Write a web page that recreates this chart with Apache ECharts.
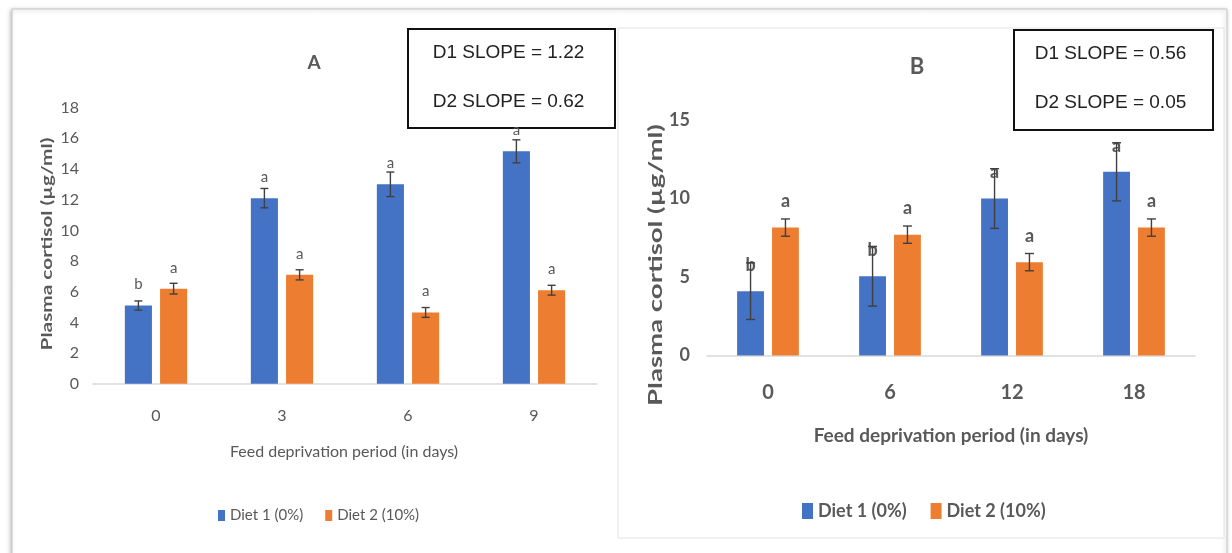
<!DOCTYPE html>
<html><head><meta charset="utf-8">
<script src="https://cdn.jsdelivr.net/npm/echarts@6/dist/echarts.min.js"></script>
<style>html,body{margin:0;padding:0;background:#fff}#c{width:1232px;height:553px}</style>
</head><body><div id="c"></div>
<script>
// ---- data ----
const categoriesA = ['0', '3', '6', '9'];
const categoriesB = ['0', '6', '12', '18'];
const seriesNames = ['Diet 1 (0%)', 'Diet 2 (10%)'];

const diet1A = [5.1, 12.1, 13.0, 15.15];
const diet1AErr = [0.3, 0.63, 0.8, 0.75];
const diet2A = [6.2, 7.1, 4.65, 6.1];
const diet2AErr = [0.35, 0.33, 0.32, 0.32];
const lettersDiet1A = ['b', 'a', 'a', 'a'];
const lettersDiet2A = ['a', 'a', 'a', 'a'];

const diet1B = [4.1, 5.05, 10.0, 11.7];
const diet1BErr = [1.8, 1.9, 1.9, 1.85];
const diet2B = [8.15, 7.7, 5.95, 8.15];
const diet2BErr = [0.55, 0.55, 0.55, 0.55];
const lettersDiet1B = ['b', 'b', 'a', 'a'];
const lettersDiet2B = ['a', 'a', 'a', 'a'];

const ticksA = { min: 0, max: 18, interval: 2 };
const ticksB = { min: 0, max: 15, interval: 5 };
const slopesA = ['D1 SLOPE = 1.22', 'D2 SLOPE = 0.62'];
const slopesB = ['D1 SLOPE = 0.56', 'D2 SLOPE = 0.05'];
const titleA = 'A', titleB = 'B';
const yName = 'Plasma cortisol (µg/ml)';
const xName = 'Feed deprivation period (in days)';

// ---- styling ----
const BLUE = '#4472C4', ORANGE = '#ED7D31', TXT = '#595959';
const FONT = 'Lato, "Open Sans", sans-serif';
const BW_A = 0.215, BW_B = 0.22, GAP = 0.3;

function errData(vals, errs, side) {
  return vals.map((v, i) => [i, v, errs[i], side]);
}
function errRender(bwFrac, cap) {
  return function (params, api) {
    const ci = api.value(0), v = api.value(1), e = api.value(2), side = api.value(3);
    const band = api.size([1, 0])[0];
    const bw = band * bwFrac;
    const off = side * bw * (1 + GAP) / 2;
    const t = api.coord([ci, v + e]);
    const b = api.coord([ci, v - e]);
    const x = t[0] + off;
    const st = { stroke: '#404040', lineWidth: 1.4 };
    return {
      type: 'group',
      children: [
        { type: 'line', shape: { x1: x, y1: t[1], x2: x, y2: b[1] }, style: st },
        { type: 'line', shape: { x1: x - cap / 2, y1: t[1], x2: x + cap / 2, y2: t[1] }, style: st },
        { type: 'line', shape: { x1: x - cap / 2, y1: b[1], x2: x + cap / 2, y2: b[1] }, style: st }
      ]
    };
  };
}
function barSeries(name, data, color, letters, axis, bw, lblSize, lblDist, bold) {
  return {
    name: name, type: 'bar', data: data, xAxisIndex: axis, yAxisIndex: axis,
    barWidth: bw, barGap: '30%', itemStyle: { color: color },
    label: {
      show: true, position: 'top', distance: lblDist,
      formatter: p => letters[p.dataIndex],
      color: TXT, fontFamily: FONT, fontSize: lblSize, fontWeight: bold ? 'bold' : 'normal'
    },
    z: 2
  };
}
function slopeBox(x, y, w, h, lines) {
  return {
    type: 'group', z: 100,
    children: [
      { type: 'rect', shape: { x: x, y: y, width: w, height: h },
        style: { fill: '#fff', stroke: '#111', lineWidth: 2 } },
      { type: 'text', x: x + w / 2 - 3, y: y + 24,
        style: { text: lines[0], font: '19px "Liberation Sans", Arial, sans-serif', fill: '#222', textAlign: 'center', textVerticalAlign: 'middle' } },
      { type: 'text', x: x + w / 2 - 3, y: y + 73,
        style: { text: lines[1], font: '19px "Liberation Sans", Arial, sans-serif', fill: '#222', textAlign: 'center', textVerticalAlign: 'middle' } }
    ]
  };
}

const chart = echarts.init(document.getElementById('c'), null, { renderer: 'canvas' });
chart.setOption({
  backgroundColor: '#fff',
  animation: false,
  textStyle: { fontFamily: FONT },
  grid: [
    { left: 93, top: 107.6, width: 504, height: 276.2 },
    { left: 707, top: 120, width: 488, height: 235.6 }
  ],
  xAxis: [
    { type: 'category', gridIndex: 0, data: categoriesA,
      axisLine: { lineStyle: { color: '#d9d9d9', width: 1.5 } }, axisTick: { show: false },
      axisLabel: { color: TXT, fontSize: 16, margin: 24, fontFamily: FONT } },
    { type: 'category', gridIndex: 1, data: categoriesB,
      axisLine: { lineStyle: { color: '#d9d9d9', width: 1.5 } }, axisTick: { show: false },
      axisLabel: { color: TXT, fontSize: 20, fontWeight: 'bold', margin: 27, fontFamily: FONT } }
  ],
  yAxis: [
    { type: 'value', gridIndex: 0, min: ticksA.min, max: ticksA.max, interval: ticksA.interval,
      splitLine: { show: false }, axisLine: { show: false }, axisTick: { show: false },
      axisLabel: { color: TXT, fontSize: 16, margin: 14, fontFamily: FONT } },
    { type: 'value', gridIndex: 1, min: ticksB.min, max: ticksB.max, interval: ticksB.interval,
      splitLine: { show: false }, axisLine: { show: false }, axisTick: { show: false },
      axisLabel: { color: TXT, fontSize: 18, fontWeight: 'bold', margin: 17, fontFamily: FONT } }
  ],
  legend: [
    { data: seriesNames, left: 213, top: 503, icon: 'rect', itemWidth: 7, itemHeight: 11, itemGap: 22,
      textStyle: { color: TXT, fontSize: 15, fontFamily: FONT }, selectedMode: false },
    { data: seriesNames, left: 797, top: 497, icon: 'rect', itemWidth: 11, itemHeight: 16, itemGap: 24,
      textStyle: { color: TXT, fontSize: 18, fontWeight: 'bold', fontFamily: FONT }, selectedMode: false }
  ],
  series: [
    barSeries(seriesNames[0], diet1A, BLUE, lettersDiet1A, 0, (BW_A * 100) + '%', 15, 13.5, false),
    barSeries(seriesNames[1], diet2A, ORANGE, lettersDiet2A, 0, (BW_A * 100) + '%', 15, 13.5, false),
    barSeries(seriesNames[0], diet1B, BLUE, lettersDiet1B, 1, (BW_B * 100) + '%', 18, 17, true),
    barSeries(seriesNames[1], diet2B, ORANGE, lettersDiet2B, 1, (BW_B * 100) + '%', 18, 17, true),
    { type: 'custom', xAxisIndex: 0, yAxisIndex: 0, data: errData(diet1A, diet1AErr, -1), renderItem: errRender(BW_A, 8), z: 5, silent: true },
    { type: 'custom', xAxisIndex: 0, yAxisIndex: 0, data: errData(diet2A, diet2AErr, 1), renderItem: errRender(BW_A, 8), z: 5, silent: true },
    { type: 'custom', xAxisIndex: 1, yAxisIndex: 1, data: errData(diet1B, diet1BErr, -1), renderItem: errRender(BW_B, 9), z: 5, silent: true },
    { type: 'custom', xAxisIndex: 1, yAxisIndex: 1, data: errData(diet2B, diet2BErr, 1), renderItem: errRender(BW_B, 9), z: 5, silent: true }
  ],
  graphic: [
    // panel frames
    { type: 'rect', z: -10, shape: { x: 12, y: 9, width: 1215, height: 560 },
      style: { fill: '#fff', stroke: '#c8c8c8', lineWidth: 1, shadowBlur: 4, shadowColor: 'rgba(0,0,0,0.25)', shadowOffsetX: -1, shadowOffsetY: 1 } },
    { type: 'rect', z: -9, shape: { x: 618, y: 28, width: 606, height: 510 },
      style: { fill: '#fff', stroke: '#e2e2e2', lineWidth: 1 } },
    // titles
    { type: 'text', x: 314, y: 63, style: { text: titleA, font: 'bold 19px ' + FONT, fill: TXT, textAlign: 'center', textVerticalAlign: 'middle' } },
    { type: 'text', x: 917, y: 67, style: { text: titleB, font: 'bold 22px ' + FONT, fill: TXT, textAlign: 'center', textVerticalAlign: 'middle' } },
    // axis names
    { type: 'text', x: 47, y: 244, rotation: Math.PI / 2, scaleX: 1.3,
      style: { text: yName, font: 'bold 16px ' + FONT, fill: TXT, textAlign: 'center', textVerticalAlign: 'middle' } },
    { type: 'text', x: 656, y: 265, rotation: Math.PI / 2, scaleX: 1.45,
      style: { text: yName, font: 'bold 19px ' + FONT, fill: TXT, textAlign: 'center', textVerticalAlign: 'middle' } },
    { type: 'text', x: 344, y: 452, style: { text: xName, font: '16px ' + FONT, fill: TXT, textAlign: 'center', textVerticalAlign: 'middle' } },
    { type: 'text', x: 951, y: 436, style: { text: xName, font: 'bold 19px ' + FONT, fill: TXT, textAlign: 'center', textVerticalAlign: 'middle' } },
    // slope boxes
    slopeBox(408, 29, 207, 99, slopesA),
    slopeBox(1014, 30, 199, 100, slopesB)
  ]
});
</script></body></html>
